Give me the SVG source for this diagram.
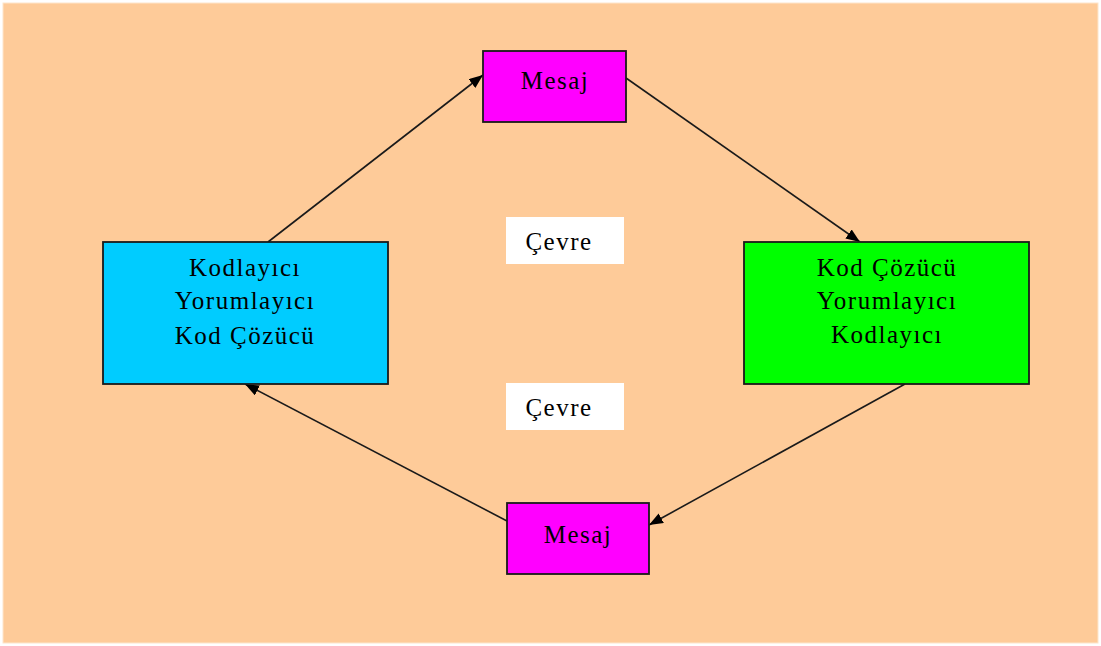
<svg xmlns="http://www.w3.org/2000/svg" width="1101" height="646" viewBox="0 0 1101 646">
<style>
.box{stroke:#1a1a1a;stroke-width:1.8}
.t{font-family:"Liberation Serif","Times New Roman",serif;font-size:25px;letter-spacing:1.5px;fill:#000;text-anchor:middle}
.c{stroke:#1a1a1a;stroke-width:1.6;fill:none;marker-end:url(#ah)}
</style>
<defs>
<marker id="ah" viewBox="0 0 14 11" refX="14" refY="5.5" markerWidth="14" markerHeight="11" markerUnits="userSpaceOnUse" orient="auto">
<path d="M0,0 L14,5.5 L0,11 z" fill="#000"/>
</marker>
</defs>
<rect x="0" y="0" width="1101" height="646" fill="#fff"/>
<rect x="3" y="3" width="1095" height="640" fill="#FECB99" stroke="#fde6cc" stroke-width="1"/>
<g id="connectors">
<line class="c" x1="268" y1="242" x2="483" y2="75"/>
<line class="c" x1="626" y1="78" x2="860" y2="242"/>
<line class="c" x1="905" y1="384" x2="649" y2="525"/>
<line class="c" x1="507" y1="521" x2="245" y2="384"/>
</g>
<g id="mesaj-top">
<rect class="box" x="483" y="51" width="143" height="71" fill="#FF00FF"/>
<text class="t" x="555" y="89">Mesaj</text>
</g>
<g id="kodlayici">
<rect class="box" x="103" y="242" width="285" height="142" fill="#00CCFF"/>
<text class="t" x="245" y="276">Kodlayıcı</text>
<text class="t" x="245" y="309">Yorumlayıcı</text>
<text class="t" x="245" y="344">Kod Çözücü</text>
</g>
<g id="kodcozucu">
<rect class="box" x="744" y="242" width="285" height="142" fill="#00FF00"/>
<text class="t" x="887" y="276">Kod Çözücü</text>
<text class="t" x="887" y="309">Yorumlayıcı</text>
<text class="t" x="887" y="343">Kodlayıcı</text>
</g>
<g id="mesaj-bottom">
<rect class="box" x="507" y="503" width="142" height="71" fill="#FF00FF"/>
<text class="t" x="578" y="543">Mesaj</text>
</g>
<g id="cevre-top">
<rect x="506" y="217" width="118" height="47" fill="#fff"/>
<text class="t" x="559" y="250">Çevre</text>
</g>
<g id="cevre-bottom">
<rect x="506" y="383" width="118" height="47" fill="#fff"/>
<text class="t" x="559" y="416">Çevre</text>
</g>
</svg>
